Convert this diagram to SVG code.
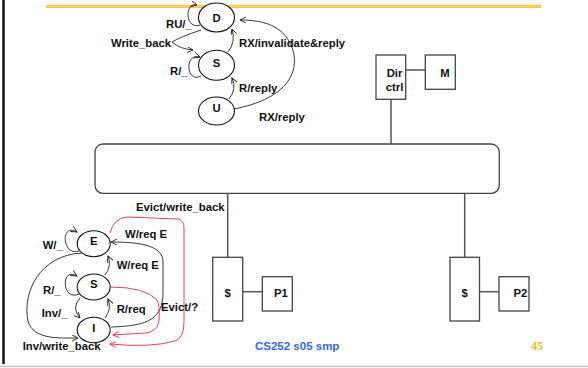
<svg xmlns="http://www.w3.org/2000/svg" width="588" height="368" viewBox="0 0 588 368">
<style>
text{font-family:"Liberation Sans",Arial,sans-serif;font-weight:bold;font-size:11.3px;fill:#111}
.st{fill:#fff;stroke:#111;stroke-width:1.1}
.box{fill:#fff;stroke:#444;stroke-width:1.3}
.wire{stroke:#555;stroke-width:1.5;fill:none}
.arc{fill:none;stroke:#222;stroke-width:0.9}
.red{fill:none;stroke:#f0405a;stroke-width:1}
.c{text-anchor:middle}
</style>
<defs>
<marker id="ah" markerWidth="8" markerHeight="8" refX="6" refY="3" orient="auto" markerUnits="userSpaceOnUse">
<path d="M0,0 L6,3 L0,6" fill="none" stroke="#222" stroke-width="0.9"/>
</marker>
<marker id="ahr" markerWidth="8" markerHeight="8" refX="6" refY="3" orient="auto" markerUnits="userSpaceOnUse">
<path d="M0,0 L6,3 L0,6" fill="none" stroke="#f0405a" stroke-width="1"/>
</marker>
</defs>
<rect width="588" height="368" fill="#fff"/>
<g id="frame">
<rect x="46" y="4.8" width="495" height="3.2" fill="#f9c43a"/>
<line x1="46" y1="6.4" x2="541" y2="6.4" stroke="#fde08a" stroke-width="0.8"/>
<line x1="3.5" y1="0" x2="3.5" y2="364" stroke="#111" stroke-width="2.5"/>
<line x1="0" y1="366.5" x2="588" y2="366.5" stroke="#c8c8c8" stroke-width="1.5"/>
</g>
<g id="connectors">
<path class="arc" d="M200,25 C185,30 184,2 197,5" marker-end="url(#ah)"/>
<path class="arc" d="M201,30 Q180,37 172,42 Q180,49 193,50" marker-end="url(#ah)"/>
<path class="arc" d="M201,76 C186,84 184,52 200,57" marker-end="url(#ah)"/>
<path class="arc" d="M228,52 Q236,42 232,29" marker-end="url(#ah)"/>
<path class="arc" d="M229,99 Q237,89 232,78" marker-end="url(#ah)"/>
<path class="arc" d="M234,109 C300,96 300,60 289,41 C279,24 260,20 240,20" marker-end="url(#ah)"/>
<path class="arc" d="M79,251 C62,257 60,222 77,232" marker-end="url(#ah)"/>
<path class="arc" d="M82,253 C40,255 22,292 28,321 C33,340 60,338 78,338" marker-end="url(#ah)"/>
<path class="arc" d="M79,294 C62,302 60,266 77,276" marker-end="url(#ah)"/>
<path class="arc" d="M80,298 Q71,308 80,318" marker-end="url(#ah)"/>
<path class="arc" d="M105,275 Q112,266 108,256" marker-end="url(#ah)"/>
<path class="arc" d="M105,318 Q112,309 108,299" marker-end="url(#ah)"/>
<path class="arc" d="M111,327 C150,326 163,318 163,292 L163,262 C163,246 142,242 111,242" marker-end="url(#ah)"/>
<path class="red" d="M110,233 Q114,218 127,217 L178,219 Q184,220 184,228 L184,322 Q184,338 175,341 Q150,348 110,344" marker-end="url(#ahr)"/>
<path class="red" d="M110,287 Q145,287 157,300 Q160,305 159,321 Q157,332 145,333 L113,335" marker-end="url(#ahr)"/>
<line class="wire" x1="391" y1="99" x2="391" y2="144"/>
<line class="wire" x1="405.7" y1="70" x2="425.3" y2="70"/>
<line class="wire" x1="227.7" y1="193" x2="227.7" y2="257"/>
<line class="wire" x1="242.7" y1="291.7" x2="262.3" y2="291.7"/>
<line class="wire" x1="464.7" y1="193" x2="464.7" y2="257"/>
<line class="wire" x1="479.5" y1="291.7" x2="499" y2="291.7"/>
</g>
<g id="D"><ellipse class="st" cx="216.5" cy="17.5" rx="18" ry="14.5"/><text class="c" x="216.5" y="22.3">D</text></g>
<g id="S-top"><ellipse class="st" cx="216.5" cy="65.3" rx="18" ry="15"/><text class="c" x="216.5" y="66.7">S</text></g>
<g id="U"><ellipse class="st" cx="216.5" cy="111" rx="18" ry="14"/><text class="c" x="216.5" y="112.3">U</text></g>
<g id="E"><ellipse class="st" cx="93.7" cy="243.7" rx="16.5" ry="13"/><text class="c" x="93.7" y="244.7">E</text></g>
<g id="S-bot"><ellipse class="st" cx="93.7" cy="287" rx="16.5" ry="13"/><text class="c" x="93.7" y="288.3">S</text></g>
<g id="I"><ellipse class="st" cx="93.7" cy="330" rx="16.5" ry="12.7"/><text class="c" x="93.7" y="331.7">I</text></g>
<g id="labels">
<text x="166" y="28">RU/_</text>
<text x="111" y="46.5">Write_back</text>
<text x="170" y="75">R/_</text>
<text x="239" y="47">RX/invalidate&amp;reply</text>
<text x="239" y="92">R/reply</text>
<text x="259" y="121">RX/reply</text>
<text x="42.7" y="249">W/_</text>
<text x="43" y="294">R/_</text>
<text x="41.7" y="317">Inv/_</text>
<text x="22.7" y="349.5">Inv/write_back</text>
<text x="136" y="211.3">Evict/write_back</text>
<text x="125" y="238.3">W/req E</text>
<text x="116.7" y="269">W/req E</text>
<text x="116.7" y="313">R/req</text>
<text x="161" y="311">Evict/?</text>
</g>
<g id="dirctrl"><rect class="box" x="376" y="55" width="29.7" height="44.3"/><text class="c" x="394.5" y="76.7">Dir</text><text class="c" x="394.5" y="90.7">ctrl</text></g>
<g id="M"><rect class="box" x="425.3" y="55" width="30" height="34.3"/><text class="c" x="445" y="76.7">M</text></g>
<g id="bus"><rect class="box" x="95" y="144" width="404.3" height="49.3" rx="8" ry="8"/></g>
<g id="cache1"><rect class="box" x="212.7" y="257.3" width="30" height="63.7"/><text class="c" x="227.7" y="297">$</text></g>
<g id="P1"><rect class="box" x="262.3" y="276.7" width="30" height="34.3"/><text class="c" x="281" y="296.5">P1</text></g>
<g id="cache2"><rect class="box" x="450" y="257.3" width="29.5" height="63.7"/><text class="c" x="464.7" y="297">$</text></g>
<g id="P2"><rect class="box" x="499" y="276.7" width="30" height="34.3"/><text class="c" x="520.5" y="296.5">P2</text></g>
<g id="footer">
<text x="255" y="349.8" style="fill:#3366ff;font-size:11.5px">CS252 s05 smp</text>
<text x="531" y="350" style="fill:#f4b52a;font-family:'Liberation Serif','Times New Roman',serif;font-size:12px">45</text>
</g>
</svg>
